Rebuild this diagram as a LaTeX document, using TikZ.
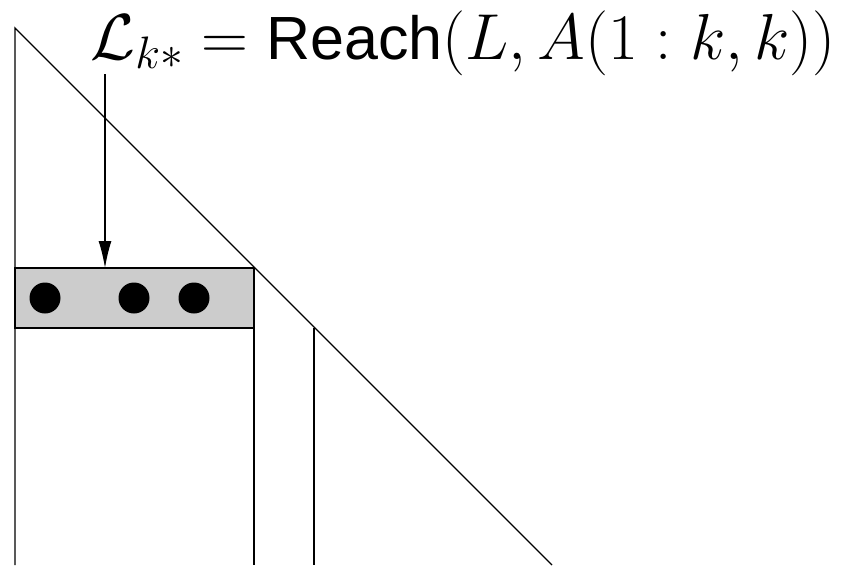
\RequirePackage{fix-cm}
\documentclass[tikz,border=0pt]{standalone}
\usepackage{fontspec}
\newfontfamily\reachfont{Liberation Sans}
\usetikzlibrary{positioning,arrows.meta}
\begin{document}
\begin{tikzpicture}[x=1pt,y=-1pt,line width=1.3pt,
      band/.style={rectangle,draw,fill=black!20,minimum width=239pt,minimum height=60pt,inner sep=0pt,outer sep=0pt},
      entry/.style={circle,fill=black,minimum size=31pt,inner sep=0pt}]
      \useasboundingbox (0,0) rectangle (843,565);
      % lower triangle
      \coordinate (top) at (15,28);
      \coordinate (bl) at (15,565);
      \coordinate (br) at (552,565);
      \draw (bl) -- (top) -- (br);
      % row k
      \node[band,anchor=north west] (row) at (15,268) {};
      \node[entry] (d1) at (45,298) {};
      \node[entry] (d2) at (134,298) {};
      \node[entry] (d3) at (194,298) {};
      \draw (row.north east) -- (row.north east |- bl);
      \coordinate (col) at (314,328);
      \draw (col) -- (col |- bl);
      % label
      \node[anchor=base west,inner sep=0pt,font=\fontsize{65}{70}\selectfont] (lbl) at (90,59)
        {$\mathcal{L}_{k*} = \mbox{\reachfont\fontsize{61}{70}\selectfont Reach}(L, A(1:k,k))$};
      \coordinate (tail) at (105,74);
      \draw[-{Latex[length=27pt,width=13pt]}] (tail) -- (tail |- row.north);
    \end{tikzpicture}
\end{document}
